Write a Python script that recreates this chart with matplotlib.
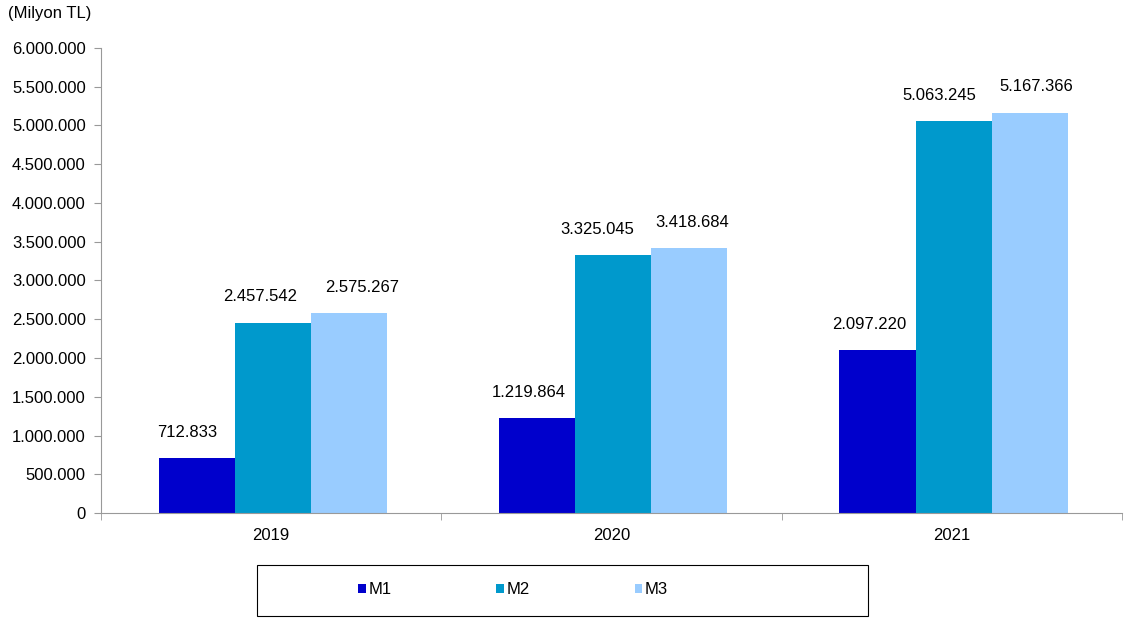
import numpy as np
import matplotlib.pyplot as plt
from matplotlib.patches import Rectangle
from matplotlib.ticker import FuncFormatter

years = ['2019', '2020', '2021']
m1 = [712833, 1219864, 2097220]
m2 = [2457542, 3325045, 5063245]
m3 = [2575267, 3418684, 5167366]
series = ['M1', 'M2', 'M3']
colors = ['#0000CC', '#0099CC', '#99CCFF']
# horizontal nudge of the value labels (points), as placed in the original
label_dx = [[-7, -6, -6], [-9, -11.5, -10], [9.5, 2, 4.5]]

plt.rcParams['font.family'] = ['Liberation Sans', 'DejaVu Sans']
plt.rcParams['font.size'] = 12


def dotted(v, pos=None):
    return f'{int(round(v)):,}'.replace(',', '.')


fig = plt.figure(figsize=(11.32, 6.19), dpi=100)
ax = fig.add_axes([0.0892, 0.1712, 0.902, 0.7513])

x = np.arange(len(years))
w = 0.2235
for i, (vals, name, c) in enumerate(zip([m1, m2, m3], series, colors)):
    bars = ax.bar(x + (i - 1) * w + 0.005, vals, width=w, color=c, label=name)
    for b, v, dx in zip(bars, vals, label_dx[i]):
        ax.annotate(dotted(v), (b.get_x() + b.get_width() / 2, v),
                    xytext=(dx, 13), textcoords='offset points',
                    ha='center', va='bottom', fontsize=12)

ax.set_xlim(-0.5, 2.5)
ax.set_ylim(0, 6000000)
ax.set_yticks(np.arange(0, 6000001, 500000))
ax.yaxis.set_major_formatter(FuncFormatter(dotted))
ax.set_xticks(x)
ax.set_xticklabels(years)
ax.set_xticks([-0.5, 0.5, 1.5, 2.5], minor=True)
ax.tick_params(axis='x', which='major', length=0, pad=11)
ax.tick_params(axis='x', which='minor', length=5, color='#999999', direction='out')
ax.tick_params(axis='y', length=5, color='#999999', pad=6)

for s in ['top', 'right']:
    ax.spines[s].set_visible(False)
for s in ['left', 'bottom']:
    ax.spines[s].set_color('#999999')

fig.text(0.007, 0.978, '(Milyon TL)', fontsize=12, va='center', ha='left')

fig.patches.append(Rectangle((257 / 1132, 3 / 619), 611 / 1132, 51 / 619,
                             transform=fig.transFigure, fill=False,
                             edgecolor='black', linewidth=0.8))
fig.legend(loc='center', bbox_to_anchor=(513 / 1132, 29 / 619), ncol=3,
           frameon=False, handlelength=0.45, handleheight=0.45,
           handletextpad=0.15, columnspacing=6.3, fontsize=12)

fig.savefig('out.png', dpi=100)
